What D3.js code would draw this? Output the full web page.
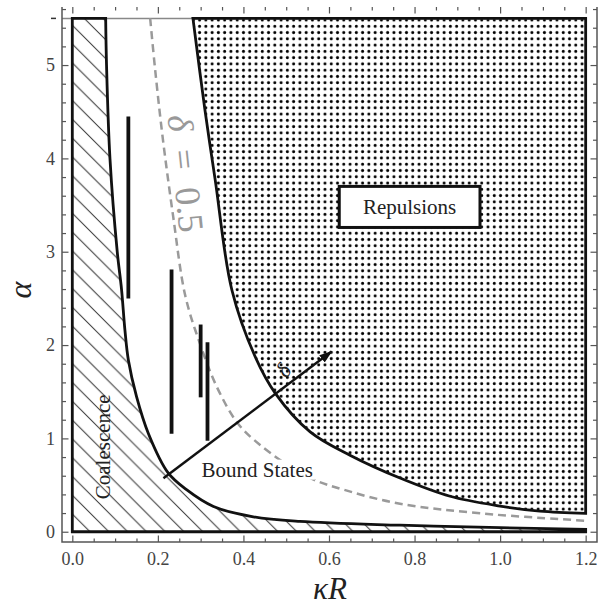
<!DOCTYPE html>
<html>
<head>
<meta charset="utf-8">
<script src="https://cdn.jsdelivr.net/npm/d3@7"></script>
<style>
  body { margin: 0; background: #fff; }
  svg { display: block; }
</style>
</head>
<body>
<svg id="chart" width="609" height="605"></svg>
<script>
// ---- data (kappa R, alpha) ----
const xTicks = [0, 0.2, 0.4, 0.6, 0.8, 1.0, 1.2];
const yTicks = [0, 1, 2, 3, 4, 5];
const alphaTop = 5.5;
const kRMax = 1.2;

// coalescence boundary (lower solid curve)
const coalescenceEdge = [
  [0.078, 5.5], [0.080, 5.0], [0.088, 4.0], [0.105, 3.0], [0.115, 2.6],
  [0.123, 2.16], [0.131, 1.84], [0.150, 1.45], [0.178, 1.05], [0.224, 0.63],
  [0.267, 0.45], [0.330, 0.27], [0.423, 0.16], [0.532, 0.11], [0.766, 0.07],
  [1.0, 0.043], [1.2, 0.026]
];
// repulsion boundary (upper solid curve)
const repulsionEdge = [
  [0.282, 5.5], [0.310, 4.52], [0.334, 3.77], [0.373, 2.59], [0.427, 1.88],
  [0.475, 1.48], [0.556, 1.07], [0.649, 0.82], [0.766, 0.575], [0.883, 0.38],
  [1.0, 0.275], [1.093, 0.22], [1.2, 0.197]
];
// delta = 0.5 contour (dashed)
const deltaHalf = [
  [0.182, 5.5], [0.193, 4.98], [0.210, 4.27], [0.236, 3.37], [0.264, 2.53],
  [0.298, 2.02], [0.338, 1.55], [0.387, 1.16], [0.439, 0.93], [0.549, 0.59],
  [0.642, 0.44], [0.766, 0.30], [0.953, 0.197], [1.2, 0.118]
];
// vertical black bars: kappa R, alpha from, alpha to
const barKR = [0.131, 0.232, 0.300, 0.316];
const barLo = [2.5, 1.05, 1.44, 0.975];
const barHi = [4.45, 2.81, 2.22, 2.03];
// the delta arrow
const arrowFrom = [0.213, 0.574];
const arrowTo = [0.606, 1.93];

// ---- layout ----
const serif = "Liberation Serif, DejaVu Serif, serif";
const frame = { left: 62, right: 597, top: 7, bottom: 542 };
const svg = d3.select("#chart").attr("font-family", serif);
const x = d3.scaleLinear().domain([-0.0241, 1.2265]).range([frame.left, frame.right]);
const y = d3.scaleLinear().domain([-0.110, 5.622]).range([frame.bottom, frame.top]);

const defs = svg.append("defs");

// hatch for coalescence (lines going down to the right)
const hs = 18.8;
const hatch = defs.append("pattern").attr("id", "hatch")
  .attr("patternUnits", "userSpaceOnUse")
  .attr("width", hs).attr("height", hs)
  .attr("y", 9.3);
hatch.append("path")
  .attr("d", `M${-hs/4},${hs*3/4}L${hs/4},${hs*5/4}M0,0L${hs},${hs}M${hs*3/4},${-hs/4}L${hs*5/4},${hs/4}`)
  .attr("stroke", "#333").attr("stroke-width", 1);

// dots for repulsion
const ds = 6.27;
const dots = defs.append("pattern").attr("id", "dots")
  .attr("patternUnits", "userSpaceOnUse")
  .attr("width", ds).attr("height", ds)
  .attr("x", 2.07).attr("y", -1.93);
dots.append("circle").attr("cx", ds/2).attr("cy", ds/2).attr("r", 1.5).attr("fill", "#000");

defs.append("marker").attr("id", "head")
  .attr("markerUnits", "userSpaceOnUse")
  .attr("markerWidth", 14).attr("markerHeight", 10)
  .attr("refX", 12).attr("refY", 4.5).attr("orient", "auto")
  .append("path").attr("d", "M0,0L13,4.5L0,9Z").attr("fill", "#111");

const curve = d3.line().x(d => x(d[0])).y(d => y(d[1])).curve(d3.curveCatmullRom.alpha(0.5));
const asL = p => "L" + p.slice(1);

// coalescence region
const coalPath = `M${x(0)},${y(0)}L${x(0)},${y(alphaTop)}` + asL(curve(coalescenceEdge)) +
  `L${x(kRMax)},${y(0)}Z`;
svg.append("path").attr("d", coalPath).attr("fill", "url(#hatch)");

// repulsion region
const repPath = curve(repulsionEdge) + `L${x(kRMax)},${y(alphaTop)}Z`;
svg.append("path").attr("d", repPath).attr("fill", "url(#dots)");

// grey line at alpha = 5.5
svg.append("line")
  .attr("x1", frame.left).attr("x2", x(kRMax))
  .attr("y1", y(alphaTop)).attr("y2", y(alphaTop))
  .attr("stroke", "#888").attr("stroke-width", 1.5);
svg.append("line")
  .attr("x1", 51).attr("x2", 56)
  .attr("y1", y(alphaTop)).attr("y2", y(alphaTop))
  .attr("stroke", "#333").attr("stroke-width", 1.5);

// delta = 0.5 dashed contour
svg.append("path").attr("d", curve(deltaHalf))
  .attr("fill", "none").attr("stroke", "#9a9a9a")
  .attr("stroke-width", 2.5).attr("stroke-dasharray", "8,5");

// region outlines
svg.append("path").attr("d", coalPath).attr("fill", "none")
  .attr("stroke", "#111").attr("stroke-width", 2.8).attr("stroke-linejoin", "miter");
svg.append("path").attr("d", repPath).attr("fill", "none")
  .attr("stroke", "#111").attr("stroke-width", 2.8).attr("stroke-linejoin", "miter");

// vertical bars
svg.selectAll(".bar").data(barKR).enter().append("line").attr("class", "bar")
  .attr("x1", d => x(d)).attr("x2", d => x(d))
  .attr("y1", (d, i) => y(barLo[i])).attr("y2", (d, i) => y(barHi[i]))
  .attr("stroke", "#111").attr("stroke-width", 3.8);

// delta arrow
svg.append("line")
  .attr("x1", x(arrowFrom[0])).attr("y1", y(arrowFrom[1]))
  .attr("x2", x(arrowTo[0])).attr("y2", y(arrowTo[1]))
  .attr("stroke", "#111").attr("stroke-width", 2.5)
  .attr("marker-end", "url(#head)");
svg.append("text")
  .attr("transform", `translate(${x(0.493)},${y(1.73)}) rotate(-55)`)
  .attr("text-anchor", "middle").attr("dy", "0.35em")
  .attr("font-size", 22).attr("font-style", "italic").attr("fill", "#222")
  .text("δ");

// Repulsions box
const bx0 = x(0.624), bx1 = x(0.953), by0 = y(3.70), by1 = y(3.26);
svg.append("rect").attr("x", bx0).attr("y", by0)
  .attr("width", bx1 - bx0).attr("height", by1 - by0)
  .attr("fill", "#fff").attr("stroke", "#111").attr("stroke-width", 3);
svg.append("text").attr("x", (bx0 + bx1) / 2).attr("y", by1 - 13)
  .attr("text-anchor", "middle")
  .attr("font-size", 21).attr("fill", "#222")
  .text("Repulsions");

// Bound States
const bs = svg.append("text").attr("x", x(0.302)).attr("y", y(0.59))
  .attr("font-size", 21).attr("fill", "#222").text("Bound States");
const bb = bs.node().getBBox();
svg.insert("rect", "text").attr("x", bb.x - 2).attr("y", bb.y + 2)
  .attr("width", bb.width + 4).attr("height", bb.height - 4).attr("fill", "#fff");

// Coalescence
svg.append("text")
  .attr("transform", `translate(${x(0.087)},${y(0.91)}) rotate(-90)`)
  .attr("text-anchor", "middle")
  .attr("font-size", 21).attr("fill", "#222")
  .text("Coalescence");

// delta = 0.5 label
svg.append("text")
  .attr("transform", `translate(${x(0.266)},${y(3.84)}) rotate(84)`)
  .attr("text-anchor", "middle").attr("dy", "0.35em")
  .attr("font-size", 36).attr("fill", "#999")
  .html('<tspan font-style="italic">δ</tspan>\u2002=\u20020.5');

// ---- frame and ticks ----
const xMinor = d3.range(0, 1.2001, 0.05).filter(v => Math.abs(v * 5 - Math.round(v * 5)) > 1e-6);
const yMinor = d3.range(0, 5.61, 0.2).filter(v => Math.abs(v - Math.round(v)) > 1e-6);
const noLabel = () => "";
const style = g => {
  g.attr("font-family", serif);
  g.select(".domain").remove();
  g.selectAll(".tick line").attr("stroke", "#555").attr("stroke-width", 1.2);
  g.selectAll(".tick text").attr("fill", "#444").attr("font-size", 18);
};

svg.append("g").attr("transform", `translate(0,${frame.bottom})`)
  .call(d3.axisBottom(x).tickValues(xTicks).tickSize(-6.5).tickPadding(10).tickFormat(d3.format(".1f"))).call(style);
svg.append("g").attr("transform", `translate(0,${frame.bottom})`)
  .call(d3.axisBottom(x).tickValues(xMinor).tickSize(-3.5).tickFormat(noLabel)).call(style);
svg.append("g").attr("transform", `translate(0,${frame.top})`)
  .call(d3.axisTop(x).tickValues(xTicks).tickSize(-6.5).tickFormat(noLabel)).call(style);
svg.append("g").attr("transform", `translate(0,${frame.top})`)
  .call(d3.axisTop(x).tickValues(xMinor).tickSize(-3.5).tickFormat(noLabel)).call(style);

svg.append("g").attr("transform", `translate(${frame.left},0)`)
  .call(d3.axisLeft(y).tickValues(yTicks).tickSize(-6.5).tickPadding(7).tickFormat(d3.format("d"))).call(style);
svg.append("g").attr("transform", `translate(${frame.left},0)`)
  .call(d3.axisLeft(y).tickValues(yMinor).tickSize(-4).tickFormat(noLabel)).call(style);
svg.append("g").attr("transform", `translate(${frame.right},0)`)
  .call(d3.axisRight(y).tickValues(yTicks).tickSize(-6.5).tickFormat(noLabel)).call(style);
svg.append("g").attr("transform", `translate(${frame.right},0)`)
  .call(d3.axisRight(y).tickValues(yMinor).tickSize(-4).tickFormat(noLabel)).call(style);

svg.append("path")
  .attr("d", `M${frame.left},${frame.top}V${frame.bottom}H${frame.right}V${frame.top}`)
  .attr("fill", "none").attr("stroke", "#555").attr("stroke-width", 1.5);

// axis labels
svg.append("text").attr("x", 330).attr("y", 599)
  .attr("text-anchor", "middle")
  .attr("font-size", 31).attr("font-style", "italic").attr("fill", "#222")
  .text("κR");
svg.append("text").attr("transform", "translate(31,290) rotate(-90)")
  .attr("text-anchor", "middle")
  .attr("font-size", 32).attr("font-style", "italic").attr("fill", "#222")
  .text("α");
</script>
</body>
</html>
